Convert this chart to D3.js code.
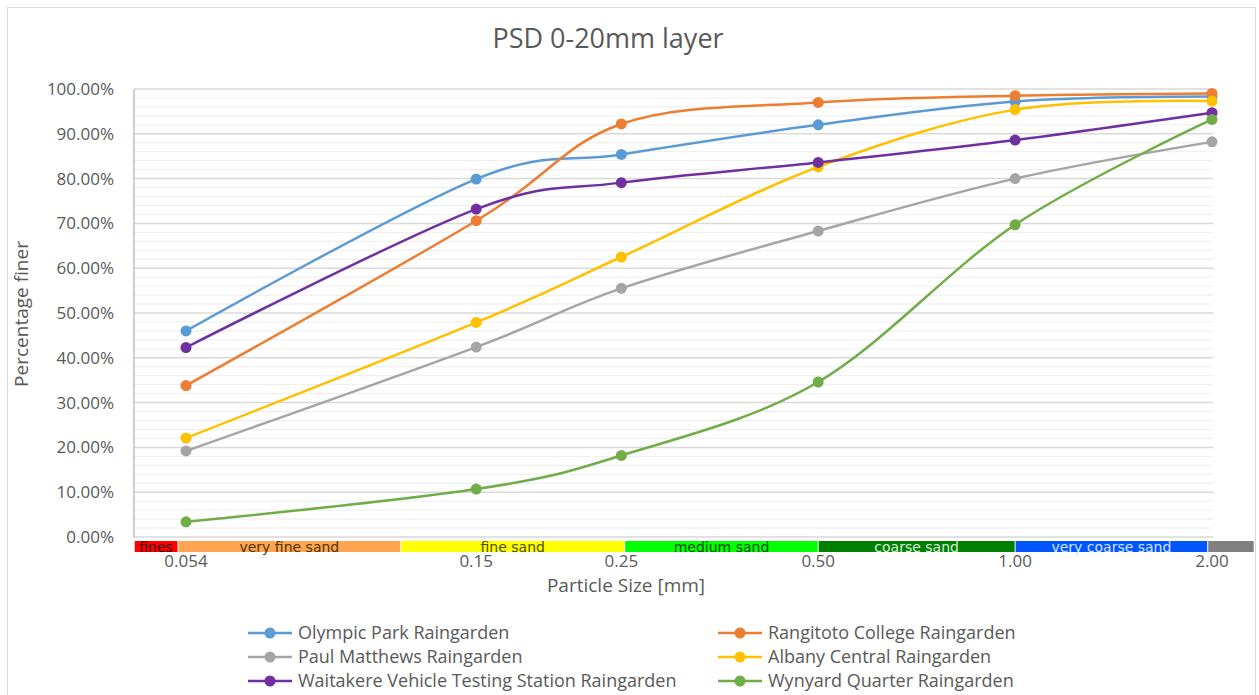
<!DOCTYPE html>
<html>
<head>
<meta charset="utf-8">
<script src="https://cdn.jsdelivr.net/npm/d3@7"></script>
<style>
  body { margin: 0; background: #fff; }
  svg text { font-family: "Open Sans", sans-serif; fill: #595959; }
</style>
</head>
<body>
<div id="chart"></div>
<script>
// particle sizes (mm) and % finer for each raingarden
var sizes = [0.054, 0.15, 0.25, 0.50, 1.00, 2.00];
var sizeLabels = ["0.054", "0.15", "0.25", "0.50", "1.00", "2.00"];

var olympic    = [46.0, 79.9, 85.4, 92.0, 97.2, 98.3];
var rangitoto  = [33.8, 70.6, 92.2, 97.0, 98.5, 99.0];
var paul       = [19.2, 42.4, 55.5, 68.3, 80.0, 88.2];
var albany     = [22.1, 47.9, 62.5, 82.6, 95.4, 97.3];
var waitakere  = [42.3, 73.2, 79.1, 83.6, 88.6, 94.7];
var wynyard    = [3.4, 10.7, 18.2, 34.6, 69.7, 93.2];

var seriesNames = ["Olympic Park Raingarden", "Rangitoto College Raingarden", "Paul Matthews Raingarden",
                   "Albany Central Raingarden", "Waitakere Vehicle Testing Station Raingarden", "Wynyard Quarter Raingarden"];
var seriesValues = [olympic, rangitoto, paul, albany, waitakere, wynyard];
var seriesColors = ["#5b9bd5", "#ed7d31", "#a5a5a5", "#ffc000", "#7030a0", "#70ad47"];

var yTicks = [0, 10, 20, 30, 40, 50, 60, 70, 80, 90, 100];

// grain size classes drawn under the x axis (boundaries in mm)
var bandNames  = ["fines", "very fine sand", "fine sand", "medium sand", "coarse sand", "very coarse sand", ""];
var bandEdges  = [0.045, 0.0525, 0.115, 0.253, 0.50, 1.00, 1.97, 2.32];
var bandColors = ["#ff0000", "#ffa552", "#ffff00", "#00ff00", "#008000", "#0055ff", "#808080"];
var bandText   = ["#3a0000", "#4d3400", "#4d4d00", "#004d00", "#d8f0d8", "#d8e4ff", "#fff"];

var width = 1259, height = 695;

var svg = d3.select("#chart").append("svg")
  .attr("width", width)
  .attr("height", height);

svg.append("rect")
  .attr("x", 7.5).attr("y", 7.5)
  .attr("width", 1248).attr("height", 720)
  .attr("fill", "#fff")
  .attr("stroke", "#d9d9d9");

var x = d3.scaleLog().domain([0.054, 2]).range([186, 1212]);
var y = d3.scaleLinear().domain([0, 100]).range([537, 89]);
var plotLeft = 134, plotRight = 1213;

// gridlines: minor every 2%, major every 10%
svg.append("g").selectAll("line")
  .data(d3.range(0, 101, 2).filter(function(d) { return d % 10 !== 0; }))
  .enter().append("line")
  .attr("x1", plotLeft).attr("x2", plotRight)
  .attr("y1", function(d) { return y(d); })
  .attr("y2", function(d) { return y(d); })
  .attr("stroke", "#ededed")
  .attr("stroke-width", 1);

svg.append("g").selectAll("line")
  .data(yTicks)
  .enter().append("line")
  .attr("x1", plotLeft).attr("x2", plotRight)
  .attr("y1", function(d) { return y(d); })
  .attr("y2", function(d) { return y(d); })
  .attr("stroke", "#d9d9d9")
  .attr("stroke-width", 1.5);

svg.append("line")
  .attr("x1", plotLeft).attr("x2", plotLeft)
  .attr("y1", y(100)).attr("y2", y(0))
  .attr("stroke", "#bfbfbf")
  .attr("stroke-width", 1.5);

// y tick labels
svg.append("g").selectAll("text")
  .data(yTicks)
  .enter().append("text")
  .attr("x", 114)
  .attr("y", function(d) { return y(d) + 6; })
  .attr("text-anchor", "end")
  .attr("font-size", 17)
  .text(function(d) { return d.toFixed(2) + "%"; });

// size class band
var bands = svg.append("g").selectAll("g")
  .data(bandNames)
  .enter().append("g");

bands.append("rect")
  .attr("x", function(d, i) { return x(bandEdges[i]) + 0.5; })
  .attr("y", 541)
  .attr("width", function(d, i) { return x(bandEdges[i + 1]) - x(bandEdges[i]) - 1; })
  .attr("height", 11)
  .attr("fill", function(d, i) { return bandColors[i]; });

bands.append("text")
  .attr("x", function(d, i) { return (x(bandEdges[i]) + x(bandEdges[i + 1])) / 2; })
  .attr("y", 551.5)
  .attr("text-anchor", "middle")
  .attr("font-size", 14)
  .style("font-family", "'DejaVu Sans', sans-serif")
  .style("fill", function(d, i) { return bandText[i]; })
  .text(function(d) { return d; });

// x tick labels
svg.append("g").selectAll("text")
  .data(sizes)
  .enter().append("text")
  .attr("x", function(d) { return x(d); })
  .attr("y", 567)
  .attr("text-anchor", "middle")
  .attr("font-size", 17)
  .text(function(d, i) { return sizeLabels[i]; });

// titles
svg.append("text")
  .attr("x", 608).attr("y", 48)
  .attr("text-anchor", "middle")
  .attr("font-size", 27)
  .text("PSD 0-20mm layer");

svg.append("text")
  .attr("x", 626).attr("y", 592)
  .attr("text-anchor", "middle")
  .attr("font-size", 19)
  .text("Particle Size [mm]");

svg.append("text")
  .attr("transform", "translate(28,314) rotate(-90)")
  .attr("text-anchor", "middle")
  .attr("font-size", 19)
  .text("Percentage finer");

// smoothed series lines and markers
var line = d3.line()
  .x(function(d) { return x(d[0]); })
  .y(function(d) { return y(d[1]); })
  .curve(d3.curveCardinal.tension(0));

seriesValues.forEach(function(vals, i) {
  var pts = sizes.map(function(s, j) { return [s, vals[j]]; });
  svg.append("path")
    .datum(pts)
    .attr("fill", "none")
    .attr("stroke", seriesColors[i])
    .attr("stroke-width", 2.5)
    .attr("d", line);
  svg.append("g").selectAll("circle")
    .data(pts)
    .enter().append("circle")
    .attr("cx", function(d) { return x(d[0]); })
    .attr("cy", function(d) { return y(d[1]); })
    .attr("r", 5.5)
    .attr("fill", seriesColors[i]);
});

// legend, two columns
var legend = svg.append("g").selectAll("g")
  .data(seriesNames)
  .enter().append("g")
  .attr("transform", function(d, i) {
    return "translate(" + (i % 2 === 0 ? 248 : 718) + "," + (633 + Math.floor(i / 2) * 24) + ")";
  });

legend.append("line")
  .attr("x1", 0).attr("x2", 44)
  .attr("stroke", function(d, i) { return seriesColors[i]; })
  .attr("stroke-width", 2.5);

legend.append("circle")
  .attr("cx", 22).attr("r", 5.5)
  .attr("fill", function(d, i) { return seriesColors[i]; });

legend.append("text")
  .attr("x", 50).attr("y", 6)
  .attr("font-size", 18)
  .text(function(d) { return d; });
</script>
</body>
</html>
